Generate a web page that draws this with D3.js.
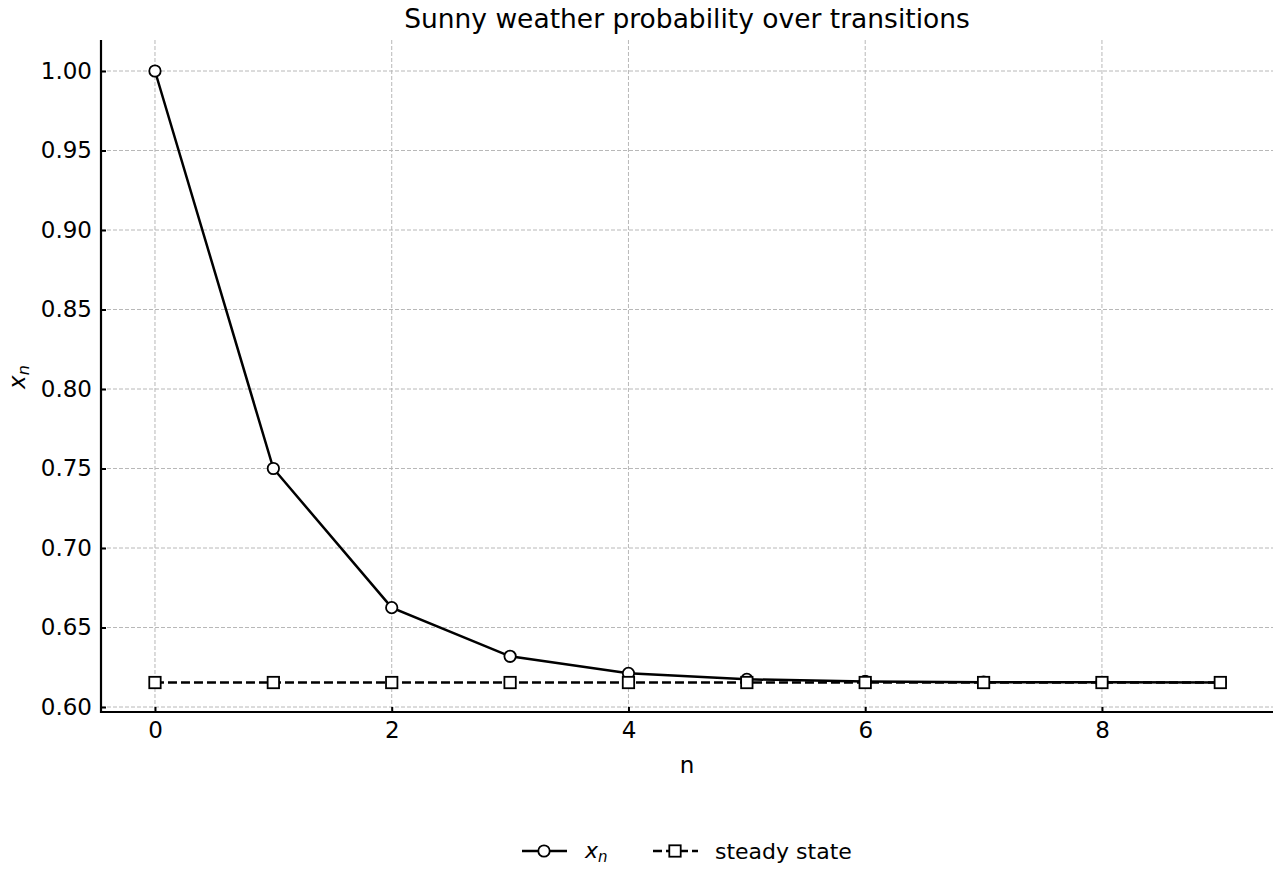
<!DOCTYPE html>
<html><head><meta charset="utf-8">
<script src="https://cdn.jsdelivr.net/npm/d3@7"></script>
<style>
body{margin:0;background:#fff;}
text{font-family:"DejaVu Sans",sans-serif;fill:#000;}
</style></head>
<body>
<svg id="c" width="1280" height="880"></svg>
<script>
const steps = [0,1,2,3,4,5,6,7,8,9];
const xn = [1.0, 0.75, 0.6625, 0.6319, 0.6212, 0.6174, 0.6161, 0.6156, 0.6155, 0.6154];
const steady = [0.6154,0.6154,0.6154,0.6154,0.6154,0.6154,0.6154,0.6154,0.6154,0.6154];
const xTicks = [0,2,4,6,8];
const yTicks = [0.60,0.65,0.70,0.75,0.80,0.85,0.90,0.95,1.00];
const title = "Sunny weather probability over transitions";

const svg = d3.select("#c");
const L=101, R=1273, T=40, B=712;
const x = d3.scaleLinear().domain([-0.456, 9.445]).range([L, R]);
const y = d3.scaleLinear().domain([0.59686, 1.0195]).range([B, T]);

// grid
const g = svg.append("g");
g.selectAll(".gx").data(xTicks).enter().append("line")
 .attr("x1",d=>x(d)).attr("x2",d=>x(d)).attr("y1",T).attr("y2",B)
 .attr("stroke","#b8b8b8").attr("stroke-width",1).attr("stroke-dasharray","4,2");
g.selectAll(".gy").data(yTicks).enter().append("line")
 .attr("x1",L).attr("x2",R).attr("y1",d=>y(d)).attr("y2",d=>y(d))
 .attr("stroke","#b8b8b8").attr("stroke-width",1).attr("stroke-dasharray","4,2");

// axes
const xAxis = d3.axisBottom(x).tickValues(xTicks).tickFormat(d3.format("d")).tickSizeInner(-5).tickSizeOuter(0).tickPadding(10);
const yAxis = d3.axisLeft(y).tickValues(yTicks).tickFormat(d3.format(".2f")).tickSizeInner(-5).tickSizeOuter(0).tickPadding(9);
const gx = svg.append("g").attr("transform",`translate(0,${B})`).call(xAxis);
const gy = svg.append("g").attr("transform",`translate(${L},0)`).call(yAxis);
[gx,gy].forEach(a=>{
  a.select(".domain").remove();
  a.selectAll(".tick line").attr("stroke","#000").attr("stroke-width",2);
  a.selectAll(".tick text").style("font-family","DejaVu Sans").style("font-size","23px").attr("fill","#000");
});
svg.append("line").attr("x1",L).attr("x2",L).attr("y1",T).attr("y2",B+1).attr("stroke","#000").attr("stroke-width",2.2);
svg.append("line").attr("x1",L-1).attr("x2",R).attr("y1",B).attr("y2",B).attr("stroke","#000").attr("stroke-width",2.2);

// series x_n
const line = d3.line().x((d,i)=>x(steps[i])).y(d=>y(d));
svg.append("path").datum(xn).attr("d",line).attr("fill","none").attr("stroke","#000").attr("stroke-width",2.5);
svg.selectAll(".c").data(xn).enter().append("circle")
 .attr("cx",(d,i)=>x(steps[i])).attr("cy",d=>y(d)).attr("r",5.7)
 .attr("fill","#fff").attr("stroke","#000").attr("stroke-width",1.8);

// steady state
svg.append("path").datum(steady).attr("d",line).attr("fill","none").attr("stroke","#000").attr("stroke-width",2.5).attr("stroke-dasharray","9,4");
svg.selectAll(".s").data(steady).enter().append("rect")
 .attr("x",(d,i)=>x(steps[i])-5.7).attr("y",d=>y(d)-5.7).attr("width",11.4).attr("height",11.4)
 .attr("fill","#fff").attr("stroke","#000").attr("stroke-width",1.8);

// title & labels
svg.append("text").attr("x",(L+R)/2).attr("y",28).attr("text-anchor","middle").style("font-size","26.5px").text(title);
svg.append("text").attr("x",(L+R)/2).attr("y",773).attr("text-anchor","middle").style("font-size","23px").text("n");
const yl = svg.append("text").attr("transform","translate(25,377) rotate(-90)").attr("text-anchor","middle").style("font-size","23px").style("font-style","italic");
yl.append("tspan").text("x");
yl.append("tspan").attr("dy",4).style("font-size","16px").text("n");

// legend
const lg = svg.append("g");
lg.append("line").attr("x1",522).attr("x2",567).attr("y1",851).attr("y2",851).attr("stroke","#000").attr("stroke-width",2.5);
lg.append("circle").attr("cx",544).attr("cy",851).attr("r",5.7).attr("fill","#fff").attr("stroke","#000").attr("stroke-width",1.8);
const lt = lg.append("text").attr("x",585).attr("y",858).style("font-size","22px").style("font-style","italic");
lt.append("tspan").text("x");
lt.append("tspan").attr("dy",4).style("font-size","15px").text("n");
lg.append("line").attr("x1",653).attr("x2",698).attr("y1",851).attr("y2",851).attr("stroke","#000").attr("stroke-width",2.5).attr("stroke-dasharray","9,4");
lg.append("rect").attr("x",669.3).attr("y",845.3).attr("width",11.4).attr("height",11.4).attr("fill","#fff").attr("stroke","#000").attr("stroke-width",1.8);
lg.append("text").attr("x",715).attr("y",859).style("font-size","22px").text("steady state");
</script>
</body></html>
